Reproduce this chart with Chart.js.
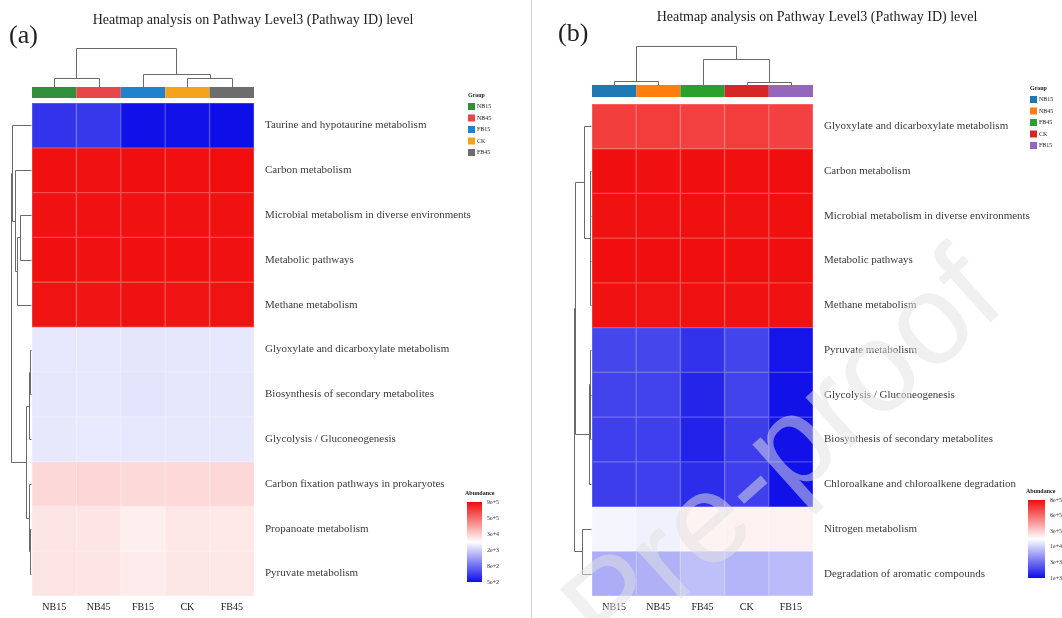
<!DOCTYPE html>
<html lang="en">
<head>
<meta charset="utf-8">
<title>Heatmap analysis on Pathway Level3 (Pathway ID) level</title>
<script src="https://cdn.jsdelivr.net/npm/chart.js@4.4.1/dist/chart.umd.min.js"></script>
<style>
  html, body { margin: 0; padding: 0; background: #fff; }
  #stage { position: relative; width: 1062px; height: 618px; overflow: hidden; background: #fff; }
  #stage canvas { position: absolute; top: 0; }
  #panelA { left: 0; }
  #panelB { left: 531px; }
  #rule { position: absolute; left: 531px; top: 0; width: 1px; height: 618px; background: #d2d2d2; }
  #stamp { left: 0; pointer-events: none; }
</style>
</head>
<body>
<div id="stage">
  <canvas id="panelA" width="531" height="618"></canvas>
  <div id="rule"></div>
  <canvas id="panelB" width="531" height="618"></canvas>
  <canvas id="stamp" width="1062" height="618"></canvas>
</div>
<script>
const TITLE = 'Heatmap analysis on Pathway Level3 (Pathway ID) level';

// ---------- panel (a) ----------
const groupsA = ['NB15', 'NB45', 'FB15', 'CK', 'FB45'];
const groupColoursA = ['#2f8f3b', '#e5474b', '#1e82cc', '#f5a31d', '#6d6d6d'];
const pathwaysA = [
  'Taurine and hypotaurine metabolism',
  'Carbon metabolism',
  'Microbial metabolism in diverse environments',
  'Metabolic pathways',
  'Methane metabolism',
  'Glyoxylate and dicarboxylate metabolism',
  'Biosynthesis of secondary metabolites',
  'Glycolysis / Gluconeogenesis',
  'Carbon fixation pathways in prokaryotes',
  'Propanoate metabolism',
  'Pyruvate metabolism'
];
// abundance per pathway, columns in the order of groupsA
const abundanceA = [
  [600, 610, 505, 510, 500],
  [880000, 875000, 885000, 880000, 890000],
  [870000, 868000, 872000, 866000, 874000],
  [878000, 872000, 880000, 876000, 870000],
  [862000, 858000, 866000, 860000, 864000],
  [3900, 3950, 3700, 3850, 3900],
  [3850, 3900, 3550, 3800, 3850],
  [4100, 4150, 3900, 4050, 4100],
  [23000, 23500, 22000, 22500, 23000],
  [16000, 15800, 12000, 15000, 14500],
  [16500, 16000, 13000, 15500, 15000]
];
const keyValuesA = [500, 800, 2000, 30000, 500000, 900000];
const keyLabelsA = ['5e+2', '8e+2', '2e+3', '3e+4', '5e+5', '9e+5'];
// linkage rows: [child a, child b, merge height]; new nodes numbered after the leaves
const colTreeA = [[0, 1, 0.23], [3, 4, 0.23], [2, 6, 0.33], [5, 7, 1.0]];
const rowTreeA = [
  [9, 10, 0.03], [5, 6, 0.04], [12, 7, 0.08], [8, 11, 0.12], [13, 14, 0.25],
  [2, 3, 0.55], [16, 4, 0.7], [1, 17, 0.8], [0, 18, 0.95], [19, 15, 1.0]
];

// ---------- panel (b) ----------
const groupsB = ['NB15', 'NB45', 'FB45', 'CK', 'FB15'];
const groupColoursB = ['#1f77b4', '#ff7f0e', '#2ca02c', '#d62728', '#9467bd'];
const pathwaysB = [
  'Glyoxylate and dicarboxylate metabolism',
  'Carbon metabolism',
  'Microbial metabolism in diverse environments',
  'Metabolic pathways',
  'Methane metabolism',
  'Pyruvate metabolism',
  'Glycolysis / Gluconeogenesis',
  'Biosynthesis of secondary metabolites',
  'Chloroalkane and chloroalkene degradation',
  'Nitrogen metabolism',
  'Degradation of aromatic compounds'
];
const abundanceB = [
  [690000, 692000, 686000, 695000, 684000],
  [792000, 790000, 794000, 791000, 793000],
  [789000, 787000, 791000, 788000, 790000],
  [795000, 793000, 796000, 794000, 792000],
  [786000, 784000, 788000, 785000, 787000],
  [1900, 1900, 1500, 1850, 1080],
  [1800, 1800, 1300, 1800, 1050],
  [1750, 1750, 1250, 1700, 1040],
  [1700, 1750, 1400, 1750, 1020],
  [38000, 33000, 82000, 89000, 89000],
  [6500, 6800, 8200, 7200, 7800]
];
const keyValuesB = [1000, 3000, 10000, 300000, 600000, 800000];
const keyLabelsB = ['1e+3', '3e+3', '1e+4', '3e+5', '6e+5', '8e+5'];
const colTreeB = [[0, 1, 0.1], [3, 4, 0.08], [2, 6, 0.67], [5, 7, 1.0]];
const rowTreeB = [
  [1, 2, 0.04], [3, 4, 0.05], [11, 12, 0.08], [0, 13, 0.4], [6, 7, 0.03],
  [5, 15, 0.06], [8, 16, 0.1], [9, 10, 0.53], [14, 17, 0.95], [19, 18, 1.0]
];

// ---------- shared drawing helpers ----------
const SERIF = '"Liberation Serif", "DejaVu Serif", serif';
const LOW = [14, 14, 232], MID = [255, 255, 255], HIGH = [240, 12, 12];

// position (0..1) of a value along the evenly spaced key stops, log-interpolated
function keyPosition(v, stops) {
  const lv = Math.log10(v), ls = stops.map(s => Math.log10(s)), n = ls.length - 1;
  if (lv <= ls[0]) return 0;
  if (lv >= ls[n]) return 1;
  for (let i = 0; i < n; i++) {
    if (lv <= ls[i + 1]) return (i + (lv - ls[i]) / (ls[i + 1] - ls[i])) / n;
  }
  return 1;
}
function ramp(t, whiten = 0) {
  let a, b, s;
  if (t < 0.5) { a = LOW; b = MID; s = t / 0.5; } else { a = MID; b = HIGH; s = (t - 0.5) / 0.5; }
  const c = a.map((x, i) => x + (b[i] - x) * s).map(x => Math.round(x + (255 - x) * whiten));
  return `rgb(${c[0]},${c[1]},${c[2]})`;
}
const px = v => Math.round(v) + 0.5;

function drawTree(ctx, links, leafPos, base, unit, orient) {
  const pos = leafPos.slice(), hgt = leafPos.map(() => 0);
  ctx.beginPath();
  links.forEach(([a, b, d]) => {
    const pa = pos[a], pb = pos[b];
    if (orient === 'up') {
      const ya = base - hgt[a] * unit, yb = base - hgt[b] * unit, y = base - d * unit;
      ctx.moveTo(px(pa), px(ya)); ctx.lineTo(px(pa), px(y)); ctx.lineTo(px(pb), px(y)); ctx.lineTo(px(pb), px(yb));
    } else {
      const xa = base - hgt[a] * unit, xb = base - hgt[b] * unit, x = base - d * unit;
      ctx.moveTo(px(xa), px(pa)); ctx.lineTo(px(x), px(pa)); ctx.lineTo(px(x), px(pb)); ctx.lineTo(px(xb), px(pb));
    }
    pos.push((pa + pb) / 2);
    hgt.push(d);
  });
  ctx.stroke();
}

function decorPlugin(P) {
  const L = P.layout;
  return {
    id: 'decor',
    afterDraw(chart) {
      const ctx = chart.ctx, xs = chart.scales.x, ys = chart.scales.y, area = chart.chartArea;
      const band = xs.getPixelForValue(1) - xs.getPixelForValue(0);
      ctx.save();

      // title and panel letter
      ctx.fillStyle = '#222';
      ctx.textBaseline = 'middle';
      ctx.textAlign = 'center';
      ctx.font = `14px ${SERIF}`;
      ctx.fillText(TITLE, L.titleX, L.titleY);
      ctx.textAlign = 'left';
      ctx.font = `26px ${SERIF}`;
      ctx.fillText(P.letter, L.letterX, L.letterY);

      // group strip above the columns
      const stripTop = area.top - L.stripGap - L.stripH;
      P.groups.forEach((g, i) => {
        ctx.fillStyle = P.groupColours[i];
        ctx.fillRect(xs.getPixelForValue(i) - band / 2, stripTop, band, L.stripH);
      });

      // dendrograms
      ctx.strokeStyle = '#6a6a6a';
      ctx.lineWidth = 1;
      drawTree(ctx, P.colTree, P.groups.map((g, i) => xs.getPixelForValue(i)), stripTop, L.colUnit, 'up');
      drawTree(ctx, P.rowTree, P.rows.map((r, i) => ys.getPixelForValue(i + 0.5)), area.left - 1, L.rowUnit, 'left');

      // group legend
      ctx.textAlign = 'left';
      ctx.fillStyle = '#222';
      ctx.font = `bold 6px ${SERIF}`;
      ctx.fillText('Group', L.legendX, L.legendY);
      ctx.font = `6px ${SERIF}`;
      P.groups.forEach((g, i) => {
        const yy = L.legendY + L.legendStep * (i + 1);
        ctx.fillStyle = P.groupColours[i];
        ctx.fillRect(L.legendX, yy - 3.5, 7, 7);
        ctx.fillStyle = '#222';
        ctx.fillText(g, L.legendX + 9, yy);
      });

      // colour key
      ctx.font = `bold 6px ${SERIF}`;
      ctx.fillText('Abundance', L.keyX - 2, L.keyTop - 9);
      for (let k = 0; k < L.keyH; k++) {
        ctx.fillStyle = ramp(1 - (k + 0.5) / L.keyH);
        ctx.fillRect(L.keyX, L.keyTop + k, L.keyW, 1);
      }
      ctx.font = `6px ${SERIF}`;
      ctx.fillStyle = '#333';
      const n = P.keyLabels.length - 1;
      P.keyLabels.forEach((lab, i) => {
        ctx.fillText(lab, L.keyX + L.keyW + 5, L.keyTop + L.keyH - (i / n) * L.keyH);
      });
      ctx.restore();
    }
  };
}

function heatmap(canvasId, P) {
  const L = P.layout;
  const datasets = P.rows.map((name, r) => ({
    label: name,
    data: P.groups.map(() => [r, r + 1]),
    backgroundColor: P.values[r].map(v => ramp(keyPosition(v, P.keyValues))),
    borderColor: P.values[r].map(v => ramp(keyPosition(v, P.keyValues), 0.25)),
    borderWidth: 1,
    borderSkipped: false,
    grouped: false,
    categoryPercentage: 1,
    barPercentage: 1
  }));
  return new Chart(document.getElementById(canvasId), {
    type: 'bar',
    data: { labels: P.groups, datasets },
    options: {
      responsive: false,
      animation: false,
      devicePixelRatio: 1,
      events: [],
      layout: { padding: { left: L.padLeft, right: L.padRight, top: L.padTop, bottom: 0 } },
      plugins: { legend: { display: false }, tooltip: { enabled: false } },
      scales: {
        x: {
          type: 'category',
          offset: true,
          grid: { display: false, drawTicks: false },
          border: { display: false },
          ticks: { font: { family: SERIF, size: 10 }, color: '#1a1a1a', padding: 5, maxRotation: 0 },
          afterFit: s => { s.height = 22; }
        },
        y: { type: 'linear', min: 0, max: P.rows.length, reverse: true, display: false },
        rows: {
          type: 'category',
          labels: P.rows,
          position: 'right',
          offset: true,
          grid: { display: false, drawTicks: false },
          border: { display: false },
          ticks: { font: { family: SERIF, size: 11 }, color: '#3a3a3a', padding: 11, autoSkip: false },
          afterFit: s => { s.width = L.axisW; }
        }
      }
    },
    plugins: [decorPlugin(P)]
  });
}

heatmap('panelA', {
  letter: '(a)',
  groups: groupsA, groupColours: groupColoursA, rows: pathwaysA, values: abundanceA,
  keyValues: keyValuesA, keyLabels: keyLabelsA, colTree: colTreeA, rowTree: rowTreeA,
  layout: {
    padLeft: 32, padRight: 27, padTop: 103, axisW: 250,
    titleX: 253, titleY: 20, letterX: 9, letterY: 36,
    stripH: 11, stripGap: 5, colUnit: 39, rowUnit: 20,
    legendX: 468, legendY: 95, legendStep: 11.5,
    keyX: 467, keyTop: 502, keyW: 15, keyH: 80
  }
});

heatmap('panelB', {
  letter: '(b)',
  groups: groupsB, groupColours: groupColoursB, rows: pathwaysB, values: abundanceB,
  keyValues: keyValuesB, keyLabels: keyLabelsB, colTree: colTreeB, rowTree: rowTreeB,
  layout: {
    padLeft: 61, padRight: 4, padTop: 104, axisW: 245,
    titleX: 286, titleY: 17, letterX: 27, letterY: 34,
    stripH: 12, stripGap: 7, colUnit: 39, rowUnit: 17,
    legendX: 499, legendY: 88, legendStep: 11.5,
    keyX: 497, keyTop: 500, keyW: 17, keyH: 78
  }
});

// diagonal "Journal Pre-proof" stamp across the page
(function stamp() {
  const ctx = document.getElementById('stamp').getContext('2d');
  ctx.save();
  ctx.translate(985, 280);
  ctx.rotate(-0.73);
  ctx.font = '128px "Liberation Sans", sans-serif';
  ctx.textAlign = 'right';
  ctx.textBaseline = 'middle';
  ctx.fillStyle = 'rgba(225,225,225,0.5)';
  ctx.fillText('Journal Pre-proof', 0, 0);
  ctx.restore();
})();
</script>
</body>
</html>
